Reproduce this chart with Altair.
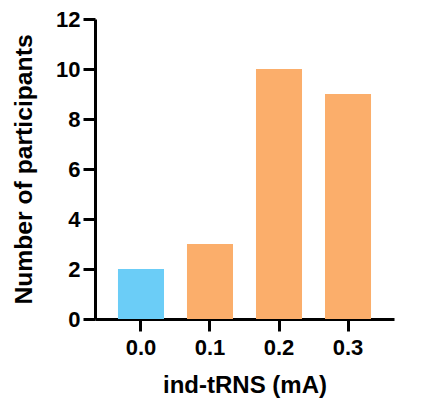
import altair as alt
import pandas as pd

doses = ["0.0", "0.1", "0.2", "0.3"]
counts = [2, 3, 10, 9]
groups = ["sham", "active", "active", "active"]
group_names = ["sham", "active"]
group_colors = ["#6BCDF7", "#FBAE6B"]
y_ticks = [0, 2, 4, 6, 8, 10, 12]

df = pd.DataFrame({"dose": doses, "count": counts, "group": groups})

FONT = "Liberation Sans"

chart = alt.Chart(df).mark_bar().encode(
    x=alt.X(
        "dose:N",
        sort=doses,
        scale=alt.Scale(paddingInner=0.333, paddingOuter=0.333),
        axis=alt.Axis(
            title="ind-tRNS (mA)",
            labelAngle=0,
            labelFont=FONT, labelFontSize=22, labelFontWeight="bold", labelColor="black",
            labelPadding=6,
            titleFont=FONT, titleFontSize=24, titleFontWeight="bold", titleColor="black",
            titleBaseline="alphabetic", titleY=73,
            domainColor="black", domainWidth=3,
            tickColor="black", tickWidth=3, tickSize=12,
            grid=False,
        ),
    ),
    y=alt.Y(
        "count:Q",
        scale=alt.Scale(domain=[0, 12], nice=False),
        axis=alt.Axis(
            values=y_ticks,
            title="Number of participants",
            labelFont=FONT, labelFontSize=22, labelFontWeight="bold", labelColor="black",
            labelPadding=3,
            titleFont=FONT, titleFontSize=24.7, titleFontWeight="bold", titleColor="black",
            titleBaseline="alphabetic", titleX=-64,
            domainColor="black", domainWidth=3,
            tickColor="black", tickWidth=3, tickSize=12,
            grid=False,
        ),
    ),
    color=alt.Color(
        "group:N",
        scale=alt.Scale(domain=group_names, range=group_colors),
        legend=None,
    ),
).properties(
    width=299,
    height=300,
    padding={"left": 87, "top": 11, "right": 22, "bottom": 90},
    autosize=alt.AutoSizeParams(type="none"),
).configure_view(stroke=None)

chart.save("out.html", embed_options={"renderer": "svg", "actions": False})
